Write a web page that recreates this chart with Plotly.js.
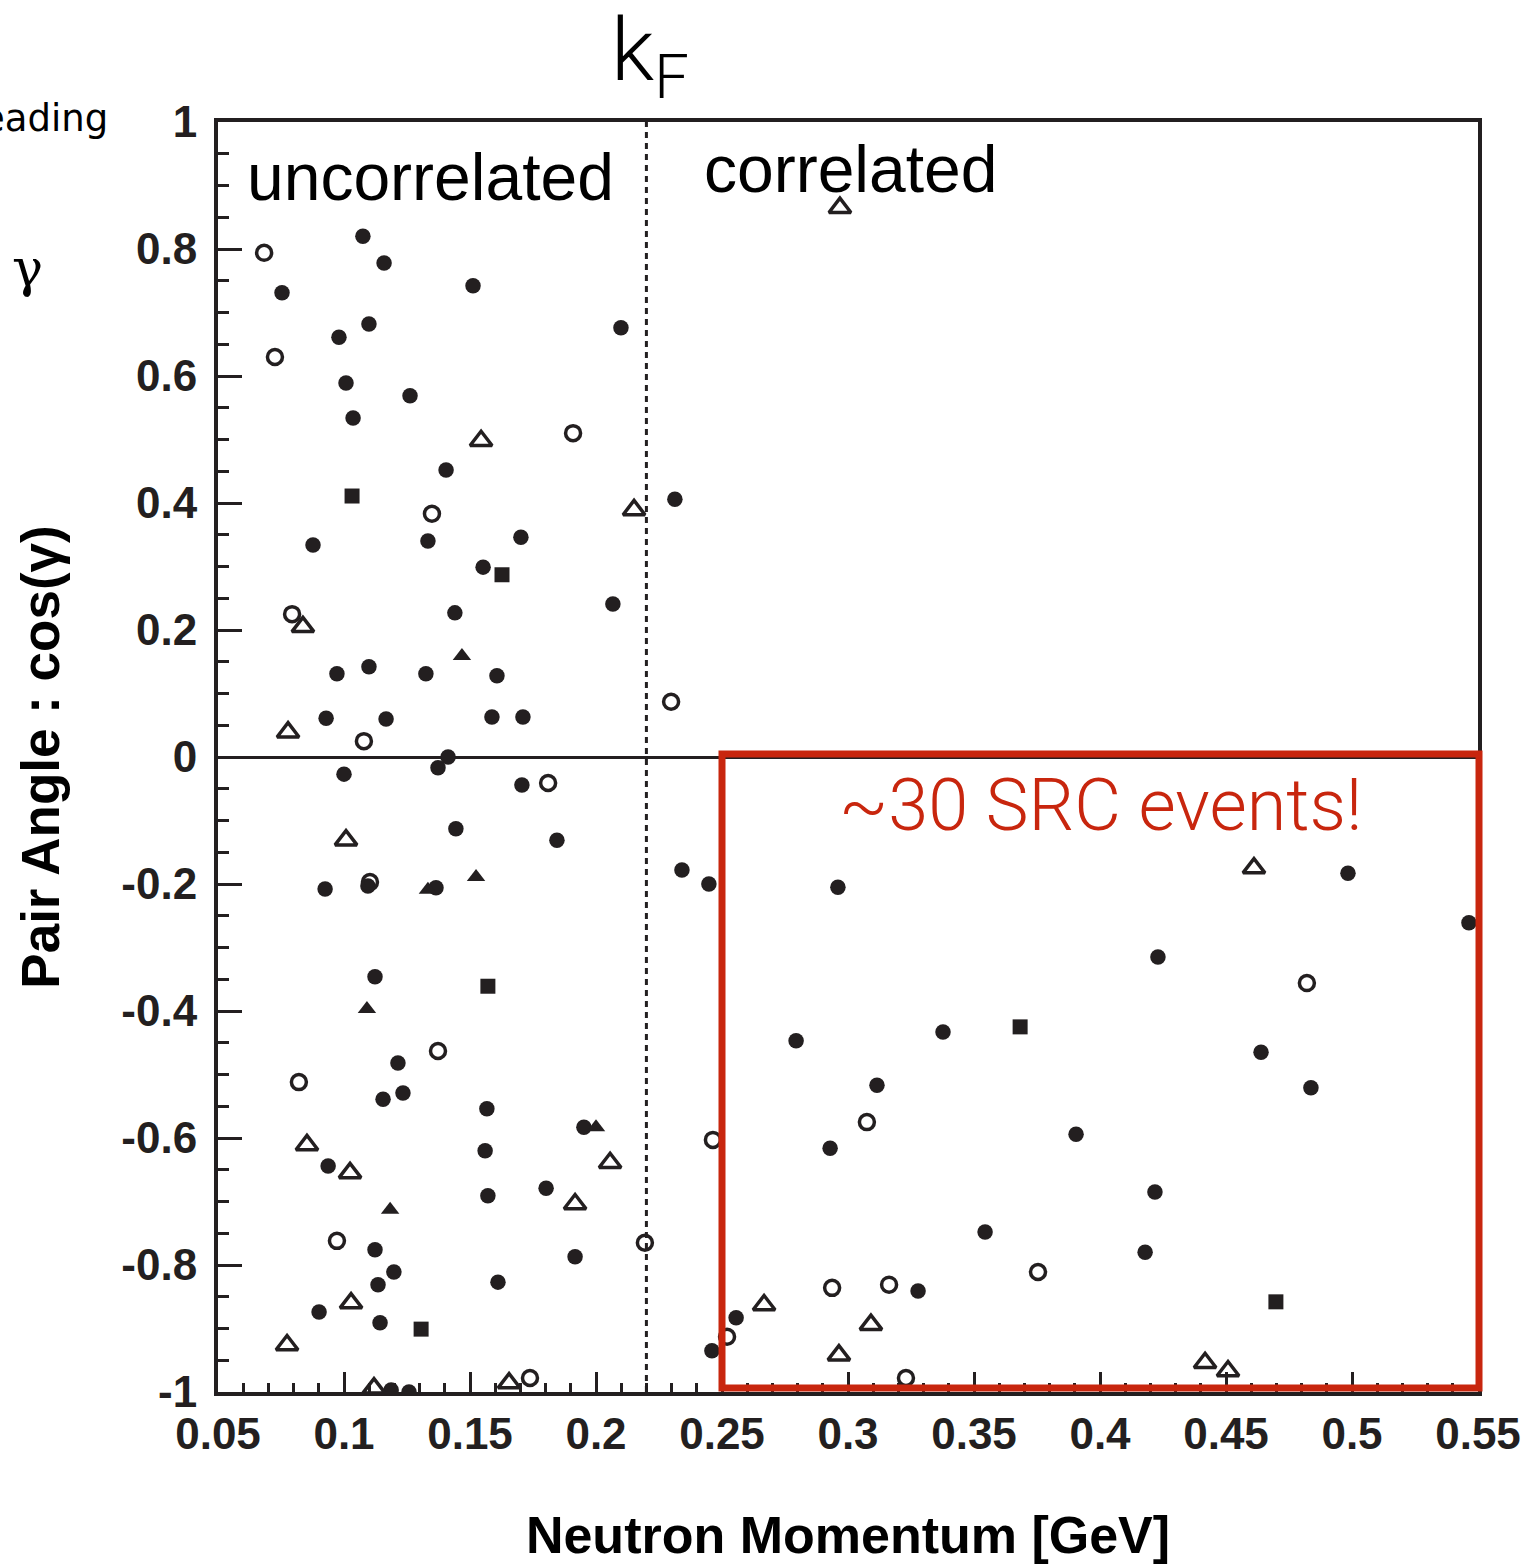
<!DOCTYPE html>
<html>
<head>
<meta charset="utf-8">
<script src="https://cdn.plot.ly/plotly-3.0.1.min.js"></script>
<style>html,body{margin:0;padding:0;background:#fff;}#chart{width:1526px;height:1564px;}</style>
</head>
<body>
<div id="chart"></div>
<script>
// ---- data ----
const kF = 0.22;

const filledCircleX = [0.1075,0.1159,0.0754,0.1512,0.1099,0.0980,0.2099,0.1008,0.1262,0.1036,0.1405,0.0877,0.1333,0.1702,0.1552,0.2313,0.1440,0.2067,0.0972,0.1099,0.1325,0.1607,0.0929,0.1167,0.1587,0.1710,0.1413,0.1000,0.1373,0.1706,0.1444,0.1845,0.0925,0.1095,0.1365,0.1123,0.1214,0.1155,0.1234,0.1567,0.0937,0.1560,0.1952,0.1802,0.1571,0.1917,0.1123,0.1198,0.1135,0.0901,0.1143,0.1611,0.1187,0.1258,0.2341,0.2448,0.2960,0.2460,0.2556,0.2794,0.3377,0.3115,0.2929,0.3905,0.3544,0.3278,0.4230,0.4218,0.4179,0.4984,0.4639,0.4837,0.5464];
const filledCircleY = [0.820,0.778,0.731,0.742,0.682,0.661,0.676,0.589,0.569,0.534,0.452,0.334,0.340,0.346,0.299,0.406,0.227,0.241,0.131,0.142,0.131,0.128,0.061,0.060,0.063,0.063,0.000,-0.027,-0.017,-0.044,-0.113,-0.131,-0.208,-0.203,-0.206,-0.346,-0.482,-0.539,-0.529,-0.554,-0.644,-0.620,-0.583,-0.679,-0.691,-0.787,-0.776,-0.811,-0.831,-0.874,-0.891,-0.827,-0.997,-1.000,-0.178,-0.200,-0.205,-0.935,-0.883,-0.447,-0.433,-0.517,-0.616,-0.594,-0.748,-0.841,-0.315,-0.685,-0.780,-0.183,-0.465,-0.521,-0.261];

const openCircleX = [0.0683,0.0726,0.1909,0.1349,0.0794,0.1079,0.2298,0.1810,0.1103,0.1373,0.0821,0.0972,0.2194,0.1738,0.2464,0.2520,0.3075,0.2937,0.3163,0.3230,0.3754,0.4821];
const openCircleY = [0.794,0.630,0.510,0.383,0.225,0.025,0.087,-0.041,-0.197,-0.463,-0.512,-0.762,-0.765,-0.978,-0.603,-0.913,-0.575,-0.836,-0.831,-0.978,-0.811,-0.356];

const openTriangleX = [0.2968,0.1544,0.2151,0.0837,0.0778,0.1008,0.0853,0.1024,0.2056,0.1917,0.1028,0.0774,0.1655,0.1119,0.2667,0.3091,0.2964,0.4611,0.4417,0.4508];
const openTriangleY = [0.865,0.498,0.389,0.205,0.039,-0.131,-0.611,-0.655,-0.639,-0.704,-0.860,-0.926,-0.986,-0.994,-0.863,-0.894,-0.942,-0.175,-0.954,-0.967];

const filledTriangleX = [0.1468,0.1524,0.1333,0.1091,0.1183,0.2000];
const filledTriangleY = [0.159,-0.189,-0.209,-0.397,-0.713,-0.583];

const filledSquareX = [0.1032,0.1627,0.1571,0.1306,0.3683,0.4698];
const filledSquareY = [0.411,0.287,-0.361,-0.901,-0.425,-0.858];

const yTickVals = [1,0.8,0.6,0.4,0.2,0,-0.2,-0.4,-0.6,-0.8,-1];
const yTickText = ["1","0.8","0.6","0.4","0.2","0","-0.2","-0.4","-0.6","-0.8","-1"];
const xTickVals = [0.05,0.1,0.15,0.2,0.25,0.3,0.35,0.4,0.45,0.5,0.55];
const xTickText = ["0.05","0.1","0.15","0.2","0.25","0.3","0.35","0.4","0.45","0.5","0.55"];

// ---- styling ----
const INK = '#231f20';
const RED = '#c8260e';
const SANS = '"Liberation Sans", Arial, Helvetica, sans-serif';

function mk(x, y, symbol, size, lw) {
  return {
    type: 'scatter', mode: 'markers', x: x, y: y, hoverinfo: 'skip',
    marker: {symbol: symbol, size: size, color: INK, line: {color: INK, width: lw}}
  };
}

const traces = [
  mk(filledCircleX, filledCircleY, 'circle', 15.5, 0),
  mk(openCircleX, openCircleY, 'circle-open', 15, 3.5),
  mk(openTriangleX, openTriangleY, 'triangle-up-open', 19, 3.5),
  mk(filledTriangleX, filledTriangleY, 'triangle-up', 16, 0),
  mk(filledSquareX, filledSquareY, 'square', 15, 0)
];

const axisCommon = {
  showline: true, linewidth: 4, linecolor: INK, mirror: true,
  showgrid: false, ticks: 'inside', tickwidth: 3, tickcolor: INK,
  tickfont: {family: SANS, size: 44, color: INK, weight: 'bold'},
  tickmode: 'array'
};

const layout = {
  width: 1526, height: 1564,
  margin: {l: 218, r: 48, t: 122, b: 172, pad: 0},
  paper_bgcolor: '#fff', plot_bgcolor: '#fff',
  showlegend: false,
  xaxis: Object.assign({}, axisCommon, {
    range: [0.0499999, 0.5500001], tickvals: xTickVals, ticktext: xTickText,
    ticklen: 20, zeroline: false,
    minor: {dtick: 0.01, tick0: 0.05, ticks: 'inside', ticklen: 9, tickwidth: 3, tickcolor: INK, showgrid: false},
    title: {text: 'Neutron Momentum [GeV]', font: {family: SANS, size: 52, color: '#000', weight: 'bold'}, standoff: 66}
  }),
  yaxis: Object.assign({}, axisCommon, {
    range: [-1.0000001, 1.0000001], tickvals: yTickVals, ticktext: yTickText,
    ticklen: 24, ticklabelstandoff: 8,
    zeroline: true, zerolinewidth: 3, zerolinecolor: INK,
    minor: {dtick: 0.05, tick0: 0, ticks: 'inside', ticklen: 11, tickwidth: 3, tickcolor: INK, showgrid: false},
    title: {text: 'Pair Angle : cos(γ)', font: {family: SANS, size: 53, color: '#000', weight: 'bold'}, standoff: 46}
  }),
  shapes: [
    {type: 'line', xref: 'x', yref: 'paper', x0: kF, x1: kF, y0: 0, y1: 1,
     line: {color: INK, width: 3, dash: '6px,5px'}, layer: 'above'},
    {type: 'rect', xref: 'paper', yref: 'paper', x0: 0.4, x1: 1.0008, y0: 0.0031, y1: 0.5024,
     line: {color: RED, width: 7}, fillcolor: 'rgba(0,0,0,0)', layer: 'above'}
  ],
  annotations: [
    {xref: 'paper', yref: 'paper', x: 0.169, y: 0.957, xanchor: 'center', yanchor: 'middle', showarrow: false,
     text: 'uncorrelated', font: {family: SANS, size: 66, color: '#000'}, bgcolor: '#fff'},
    {xref: 'paper', yref: 'paper', x: 0.5024, y: 0.963, xanchor: 'center', yanchor: 'middle', showarrow: false,
     text: 'correlated', font: {family: SANS, size: 66, color: '#000'}},
    {xref: 'paper', yref: 'paper', x: 0.70, y: 0.462, xanchor: 'center', yanchor: 'middle', showarrow: false,
     text: '~30 SRC events!', font: {family: 'Roboto, ' + SANS, size: 72, color: RED, weight: 300}},
    {xref: 'paper', yref: 'paper', x: 0.3429, y: 1.052, xanchor: 'center', yanchor: 'middle', showarrow: false,
     text: 'k<sub>F</sub>', font: {family: 'Roboto, ' + SANS, size: 88, color: '#000', weight: 300}},
    {xref: 'paper', yref: 'paper', x: -0.0857, y: 1.003, xanchor: 'right', yanchor: 'middle', showarrow: false,
     text: 'eading', font: {family: '"DejaVu Sans", sans-serif', size: 37, color: '#000'}},
    {xref: 'paper', yref: 'paper', x: -0.1508, y: 0.885, xanchor: 'center', yanchor: 'middle', showarrow: false,
     text: 'γ', font: {family: '"DejaVu Serif", serif', size: 52, color: '#000'}}
  ]
};

Plotly.newPlot('chart', traces, layout, {staticPlot: true, displayModeBar: false});
</script>
</body>
</html>
